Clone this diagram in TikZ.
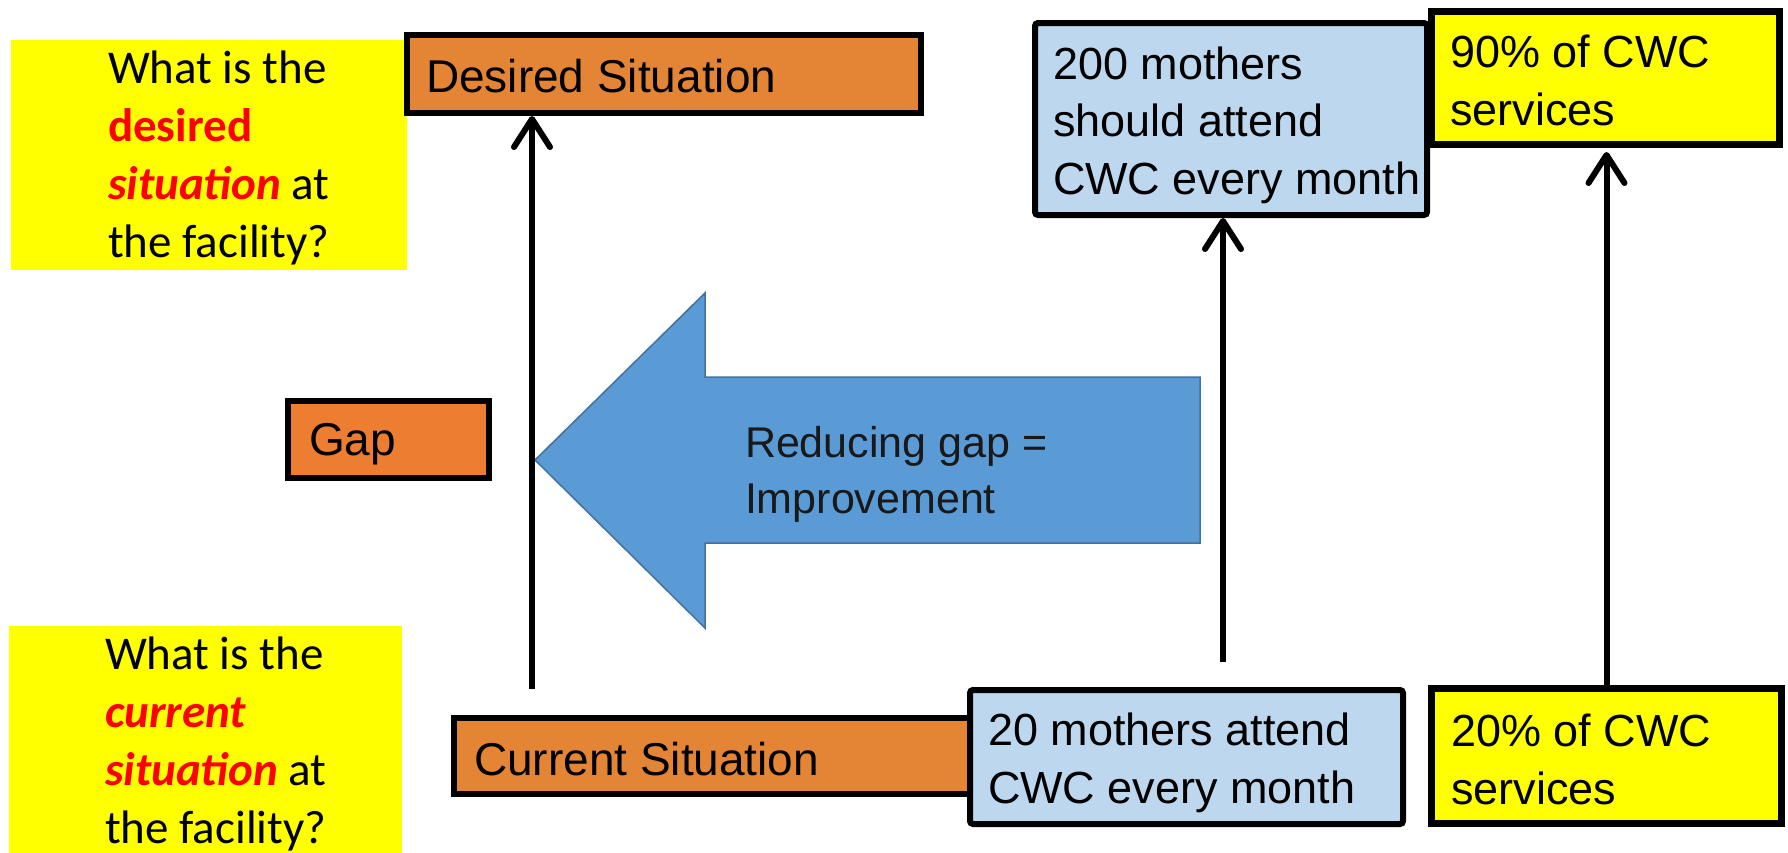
\documentclass[tikz,border=0pt]{standalone}
\usepackage{fontspec}
\setmainfont{Liberation Sans}
\newfontfamily\calibrif{Carlito}
\usetikzlibrary{arrows.meta}
\definecolor{qyellow}{HTML}{FFFF00}
\definecolor{orangeA}{HTML}{E38535}
\definecolor{orangeG}{HTML}{ED7D31}
\definecolor{lblue}{HTML}{BDD7EE}
\definecolor{ablue}{HTML}{5B9BD5}
\definecolor{aborder}{HTML}{41719C}
\definecolor{qred}{HTML}{FF0000}
\begin{document}
\begin{tikzpicture}[x=1pt,y=-1pt,
  qbox/.style={fill=qyellow, draw=none, inner sep=0pt, outer sep=0pt},
  box/.style={draw=black, line width=6pt, inner sep=0pt},
  obox/.style={box, fill=orangeA},
  gbox/.style={box, fill=orangeG},
  bbox/.style={box, fill=lblue, rounded corners=3pt},
  ybox/.style={box, line width=7pt, fill=qyellow},
  txt/.style={inner sep=0pt, outer sep=0pt, anchor=base west, align=left, font=\fontsize{46}{57.5}\selectfont},
  btxt/.style={txt, font=\fontsize{45}{57.5}\selectfont},
  qtxt/.style={txt, font=\calibrif\fontsize{47}{58}\selectfont},
  arr/.style={line width=6pt, -{Straight Barb[length=28pt,width=36pt,line cap=round,line join=round]}}
]
\useasboundingbox (0,0) rectangle (1788,852);

% yellow question panels
\node[qbox, minimum width=396pt, minimum height=230pt] (qtop) at (209,155) {};
\node[qbox, minimum width=393pt, minimum height=234pt] (qbot) at (205.5,743) {};

% big blue arrow
\path[fill=ablue, draw=aborder, line width=1.5pt]
  (535,460) -- (705,293) -- (705,377) -- (1200,377) -- (1200,543)
  -- (705,543) -- (705,628) -- cycle;

% boxes
\node[obox, minimum width=514pt, minimum height=78pt] (des) at (664,74) {};
\node[gbox, minimum width=201pt, minimum height=77pt] (gap) at (388.5,439.5) {};
\node[obox, minimum width=518pt, minimum height=76pt] (cur) at (713,756) {};
\node[bbox, minimum width=392pt, minimum height=192pt] (b200) at (1231,119) {};
\node[ybox, minimum width=348pt, minimum height=133pt] (y90) at (1605.5,78) {};
\node[bbox, minimum width=433pt, minimum height=134pt] (b20) at (1186.5,757) {};
\node[ybox, minimum width=350pt, minimum height=135pt] (y20) at (1606.5,756) {};

% connectors
\coordinate (l1) at (532,689);
\draw[arr] (l1) -- (l1 |- des.south);
\coordinate (l2) at (1223,662);
\draw[arr] (l2) -- (l2 |- b200.south);
\draw[arr, shorten >=4pt] (y20.north) -- (y20.north |- y90.south);

% texts (anchor = baseline of the last line)
\node[qtxt] (tq1) at (108,257) {What is the\\{\bfseries\color{qred}desired}\\{\bfseries\itshape\color{qred}situation} at\\the facility?};
\node[qtxt] (tq2) at (105,843) {What is the\\{\bfseries\itshape\color{qred}current}\\{\bfseries\itshape\color{qred}situation} at\\the facility?};
\node[txt] (tdes) at (426,92) {Desired Situation};
\node[txt] (tgap) at (309,455) {Gap};
\node[txt] (tcur) at (474,775) {Current Situation};
\node[btxt] (t200) at (1053,194) {200 mothers\\should attend\\CWC every month};
\node[btxt] (t90) at (1450,125) {90\% of CWC\\services};
\node[btxt] (t20) at (988,803) {20 mothers attend\\CWC every month};
\node[btxt] (t20p) at (1451,804) {20\% of CWC\\services};
\node[txt, font=\fontsize{43}{56}\selectfont, text=black!90] (trg) at (745,513) {Reducing gap =\\Improvement};
\end{tikzpicture}
\end{document}
